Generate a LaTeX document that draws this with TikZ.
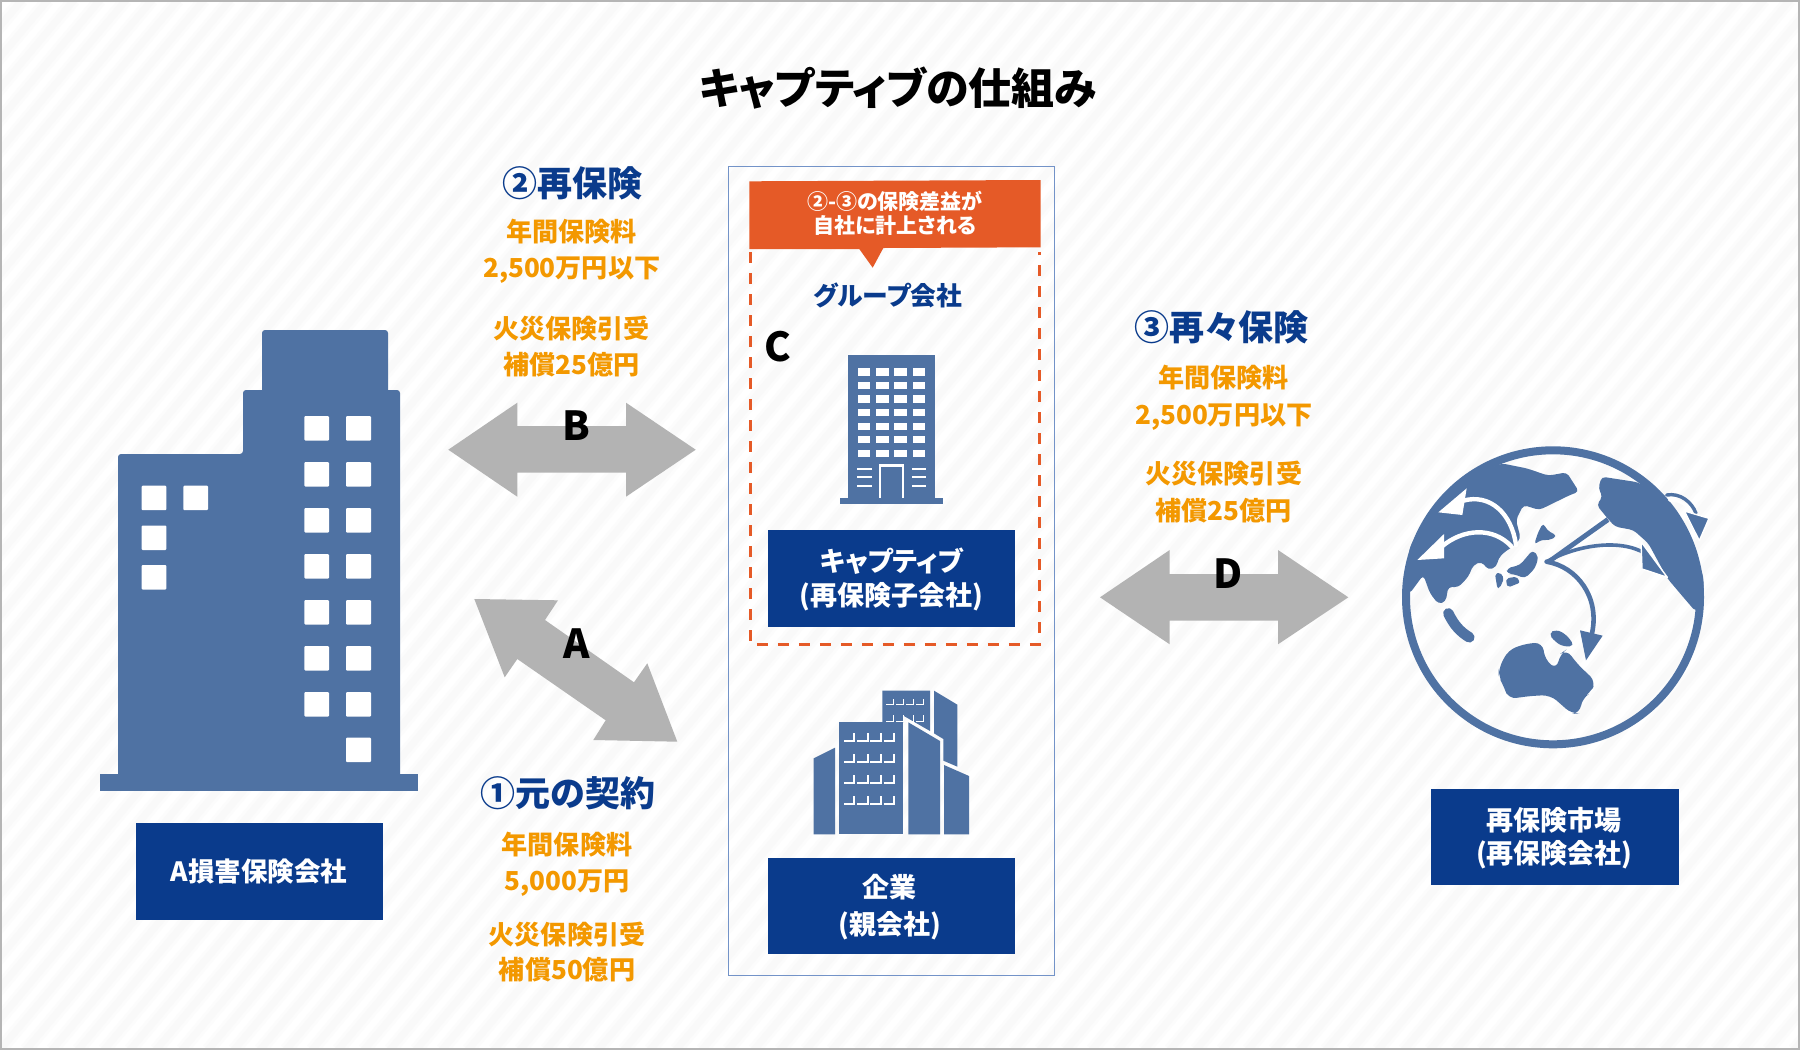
\documentclass[tikz,border=0pt]{standalone}
\usepackage{fontspec}
\setmainfont{Noto Sans CJK JP}[RawFeature=+palt]
\definecolor{navy}{HTML}{0A3B8C}
\definecolor{bldg}{HTML}{4F72A3}
\definecolor{orangetxt}{HTML}{F39800}
\definecolor{banner}{HTML}{E55A27}
\definecolor{arrowgray}{HTML}{B3B3B3}
\definecolor{stripe}{HTML}{F9F9F9}
\definecolor{stripesoft}{HTML}{FCFCFC}
\definecolor{framegray}{HTML}{B5B5B5}
\definecolor{panelline}{HTML}{7393C8}
\newcommand{\fs}[1]{\bfseries\fontsize{#1}{#1}\selectfont}
\tikzset{
  txt/.style={inner sep=0pt,font=\fs{#1},text height={0.88*#1pt},text depth={0.12*#1pt}},
  amount/.style={txt=26.1,text=orangetxt},
  heading/.style={txt=35,text=navy},
  boxtext/.style={txt=27,text=white},
  navybox/.style={fill=navy,inner sep=0pt,anchor=north west},
  letter/.style={text=black,font=\fs{40},inner sep=0pt},
  solidb/.style={fill=bldg},
  win/.style={fill=white,rounded corners=1pt},
  gaparrow/.style={fill=arrowgray},
  whitecut/.style={draw=white,line width=4.4pt,line cap=round},
  bluecut/.style={draw=bldg,line width=3.6pt,line cap=round},
  land/.style={fill=bldg,rounded corners=4pt},
  headw/.style={fill=white},
  headb/.style={fill=bldg,line join=round},
  headcut/.style={fill=bldg,draw=white,line width=1.4pt,line join=round},
  lmark/.style={draw=white,line width=2pt},
}
\begin{document}
\begin{tikzpicture}[x=1pt,y=-1pt]
\useasboundingbox (0,0) rectangle (1800,1050);
% background
\begin{scope}
\clip (0,0) rectangle (1800,1050);
\fill[white] (0,0) rectangle (1800,1050);
\foreach \i in {-40,...,72} {
  \draw[stripesoft,line width=13pt] ({\i*26},1050) -- ++(880,-1050);
  \draw[stripe,line width=7pt] ({\i*26},1050) -- ++(880,-1050);
}
\end{scope}
\draw[framegray,line width=2pt] (1,1) rectangle (1799,1049);

\node[txt=43] (title) at (898,88) {キャプティブの仕組み};

% Building A
\fill[solidb,rounded corners=3pt] (262,395) -- (262,330) -- (388,330) -- (388,395) -- cycle;
\fill[solidb,rounded corners=3pt] (118,780) -- (118,454) -- (243,454) [sharp corners] -- (243,454) [rounded corners=3pt] -- (243,390) -- (400,390) -- (400,780) -- cycle;
\fill[solidb] (100,773.5) rectangle (418,791);
\foreach \y in {416,462,508,554,600,646,692} {
  \fill[win] (304.3,\y) rectangle ++(24.7,24.5);
  \fill[win] (346,\y) rectangle ++(25,24.5);
}
\fill[win] (346,737.5) rectangle ++(25,24.5);
\fill[win] (141.7,485.7) rectangle ++(24.7,24.5);
\fill[win] (183.3,485.7) rectangle ++(24.7,24.5);
\fill[win] (141.7,525.5) rectangle ++(24.7,24.5);
\fill[win] (141.7,565) rectangle ++(24.7,24.5);
\node[navybox,minimum width=247.4pt,minimum height=97pt] (boxA) at (135.3,823) {};
\node[txt=26.5,text=white] (labA) at (boxA.center) {A損害保険会社};

% Panel
\draw[panelline,line width=1pt] (728.7,166.7) rectangle (1054.3,975.8);
\draw[banner,line width=3pt,dash pattern=on 11pt off 10pt] (750.3,252) -- (750.3,644.5) -- (1039.3,644.5) -- (1039.3,252);
\fill[banner] (749.3,181.3) -- (1040.7,180) -- (1040.7,247.3) -- (883.3,248) -- (872.7,267.7) -- (859.3,249) -- (749.3,249) -- cycle;
\node[txt=21,text=white] (ban1) at (895,201.5) {②-③の保険差益が};
\node[txt=21,text=white] (ban2) at (895,225.7) {自社に計上される};
\node[txt=25.8,text=navy] (group) at (888,296) {グループ会社};
\node[letter] (lC) at (777.5,347) {C};

% Building C
\fill[solidb] (848,355.3) rectangle (935.3,498);
\fill[solidb] (840.3,497.7) rectangle (942.7,503.7);
\foreach \x in {858,876.3,894.3,912.7} {
  \foreach \y in {368.3,382,395.3,409,422.7,436,449.7} {
    \fill[white] (\x,\y) rectangle ++(12.3,7.4);
  }
}
\draw[white,line width=2.6pt] (880,497.7) -- (880,465.2) -- (903,465.2) -- (903,497.7);
\foreach \y in {469,477.3,485.7} {
  \draw[white,line width=2pt] (857.3,\y) -- (871.7,\y);
  \draw[white,line width=2pt] (912,\y) -- (926,\y);
}
\node[navybox,minimum width=247pt,minimum height=97pt] (boxC) at (768,530) {};
\node[boxtext] (capt1) at (891.5,561) {キャプティブ};
\node[boxtext] (capt2) at (891.5,595) {(再保険子会社)};

% Company building
\begin{scope}[shift={(780,670)},x=0.33333pt,y=-0.33333pt]
\fill[solidb] (307,62) -- (450,62) -- (450,183) -- (370,137) -- (370,157) -- (307,157) -- cycle;
\fill[solidb] (462,62) -- (532,104) -- (532,290) -- (490,272) -- (490,207) -- (462,190) -- cycle;
\fill[solidb] (178,157) rectangle (370,493);
\fill[solidb] (385,157) -- (480,213) -- (480,493) -- (385,493) -- cycle;
\fill[solidb] (492,285) -- (567,318) -- (567,493) -- (492,493) -- cycle;
\fill[solidb] (101,265) -- (165,233) -- (165,493) -- (101,493) -- cycle;
\foreach \x in {223,263,302,342} {
  \foreach \y in {212,276,340,403} {
    \draw[lmark] (\x-31,\y) -- (\x,\y) -- (\x,\y-24);
  }
}
\foreach \x in {340,370,400,430} {
  \draw[lmark,line width=1.6pt] (\x-21,104) -- (\x,104) -- (\x,104-18);
  \draw[lmark,line width=1.6pt] (\x-21,154) -- (\x,154) -- (\x,154-18);
}
\end{scope}
\node[navybox,minimum width=247pt,minimum height=96.4pt] (boxP) at (768,857.6) {};
\node[boxtext] (par1) at (889.5,887) {企業};
\node[boxtext] (par2) at (889.5,924) {(親会社)};

% Big arrows
\fill[gaparrow] (448.3,449.7) -- (517.3,402.7) -- (517.3,426) -- (626,426) -- (626,402.7) -- (695.7,449.7) -- (626,496.7) -- (626,472.7) -- (517.3,472.7) -- (517.3,496.7) -- cycle;
\fill[gaparrow] (474.3,599) -- (558,600.3) -- (545,620) -- (634,682.3) -- (647.3,663.3) -- (677.3,741.7) -- (593.3,740) -- (605.7,720.3) -- (517.3,659) -- (504.7,677.3) -- cycle;
\fill[gaparrow] (1100,597.3) -- (1169.7,550) -- (1169.7,574) -- (1278,574) -- (1278,550) -- (1348.3,597.3) -- (1278,644.3) -- (1278,620.7) -- (1169.7,620.7) -- (1169.7,644.3) -- cycle;
\node[letter] (lB) at (576,426) {B};
\node[letter] (lA) at (576.7,644) {A};
\node[letter] (lD) at (1228.3,574) {D};

% Text blocks
\node[heading] (h2) at (572.7,183.3) {②再保険};
\node[amount] (t21) at (571.7,231.7) {年間保険料};
\node[amount] (t22) at (571.7,267.7) {2,500万円以下};
\node[amount] (t23) at (571.7,329) {火災保険引受};
\node[amount] (t24) at (571.7,365) {補償25億円};

\node[heading] (h3) at (1221.5,327) {③再々保険};
\node[amount] (t31) at (1223.8,377.7) {年間保険料};
\node[amount] (t32) at (1223.8,414.4) {2,500万円以下};
\node[amount] (t33) at (1223.8,474) {火災保険引受};
\node[amount] (t34) at (1223.8,511) {補償25億円};

\node[heading] (h1) at (568,793) {①元の契約};
\node[amount] (t11) at (567,845) {年間保険料};
\node[amount] (t12) at (567,880.5) {5,000万円};
\node[amount] (t13) at (567,934.5) {火災保険引受};
\node[amount] (t14) at (567,970) {補償50億円};

% Globe
\draw[bldg,line width=8pt] (1553,597.3) circle (147pt);
\begin{scope}[shift={(1380,430)},x=0.33333pt,y=-0.33333pt]
% Eurasia
\fill[land] (365,100) -- (440,115) -- (505,137) -- (560,127) -- (597,185) -- (570,195) -- (478,240) -- (430,225) -- (408,270) -- (422,325) -- (400,350) -- (378,362) -- (355,385) -- (350,410) -- (325,420) -- (305,395) -- (280,405) -- (265,440) -- (235,472) -- (205,470) -- (197,515) -- (175,522) -- (150,490) -- (130,435) -- (88,492) -- (75,440) -- (90,350) -- (150,240) -- (240,150) -- cycle;
% Americas
\fill[land] (665,140) -- (775,157) -- (860,215) -- (930,320) -- (970,440) -- (972,500) -- (947,545) -- (900,490) -- (862,445) -- (805,340) -- (760,300) -- (705,290) -- (680,262) -- (650,225) -- (668,200) -- (655,175) -- cycle;
% Japan
\fill[land] (380,415) -- (420,405) -- (458,360) -- (476,380) -- (465,415) -- (435,445) -- (400,432) -- (382,432) -- cycle;
\fill[land] (462,345) -- (475,305) -- (490,278) -- (500,300) -- (532,318) -- (505,332) -- (485,328) -- cycle;
\fill[land,rounded corners=2pt] (345,432) -- (360,427) -- (372,445) -- (360,473) -- (352,475) -- cycle;
\fill[land,rounded corners=2pt] (380,445) -- (410,440) -- (420,458) -- (385,472) -- (378,460) -- cycle;
% Indonesia
\draw[bldg,line width=10.5pt,line cap=round] (205,550) .. controls (222,585) and (240,605) .. (268,622);
% New Guinea & Australia
\fill[land,rounded corners=5pt] (505,610) -- (530,598) -- (560,615) -- (584,648) -- (550,650) -- (525,635) -- cycle;
\fill[land,rounded corners=8pt] (356,715) -- (385,660) -- (440,640) -- (488,638) -- (495,690) -- (530,718) -- (540,672) -- (560,658) -- (590,700) -- (648,755) -- (630,790) -- (606,805) -- (600,850) -- (575,852) -- (540,820) -- (510,795) -- (450,798) -- (385,807) -- (372,770) -- (356,740) -- cycle;
% white arrows on Asia
\draw[whitecut] (408,345) .. controls (395,250) and (330,190) .. (250,212);
\fill[headw] (175,247) -- (260,175) -- (247,255) -- cycle;
\draw[whitecut] (395,350) .. controls (340,290) and (250,295) .. (185,350);
\fill[headw] (112,390) -- (192,312) -- (192,385) -- cycle;
% blue arrows from Japan
\fill[bldg] (493,396) -- (680,262) -- (688,275) -- (507,403) -- cycle;
\draw[bluecut] (500,395) .. controls (590,345) and (720,325) .. (795,370);
\fill[headcut] (783,335) -- (862,442) -- (786,417) -- cycle;
\draw[bluecut,line width=4.6pt] (500,395) .. controls (590,410) and (660,500) .. (636,610);
\fill[headb] (600,601) -- (668,617) -- (618,691) -- cycle;
% top right arrow
\draw[whitecut,line width=3pt] (868,210) .. controls (900,210) and (925,225) .. (938,252);
\draw[bluecut,line width=3.4pt] (860,195) .. controls (900,188) and (935,215) .. (948,250);
\fill[headcut] (913,243) -- (987,265) -- (958,332) -- cycle;
\end{scope}
\node[navybox,minimum width=248pt,minimum height=96.4pt] (boxM) at (1430.5,788.7) {};
\node[boxtext] (mk1) at (1554.4,820) {再保険市場};
\node[boxtext] (mk2) at (1554.4,853) {(再保険会社)};
\end{tikzpicture}
\end{document}
